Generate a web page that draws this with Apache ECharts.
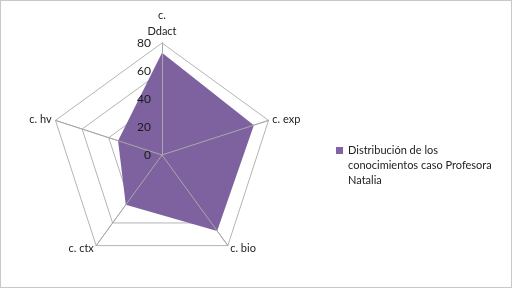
<!DOCTYPE html>
<html lang="es">
<head>
<meta charset="UTF-8">
<title>Distribución de los conocimientos</title>
<style>
  html, body { margin: 0; padding: 0; background: #fff; }
  #main { width: 510px; height: 286px; border: 1px solid #c8c8c8; }
</style>
</head>
<body>
<div id="main"></div>
<script src="https://cdn.jsdelivr.net/npm/echarts@6/dist/echarts.min.js"></script>
<script>
// ejes del radar y valores (sentido horario desde arriba)
var categorias = ['c.\nDdact', 'c. exp', 'c. bio', 'c. ctx', 'c. hv'];
var valores = [73, 69, 67, 44, 33];
var maximo = 80;
var serieNombre = 'Distribución de los conocimientos caso Profesora Natalia';

var chart = echarts.init(document.getElementById('main'));

// el radar de echarts gira en sentido antihorario: se invierte el orden
var orden = [0, 4, 3, 2, 1];
var fuente = 'Lato';

chart.setOption({
  animation: false,
  textStyle: { fontFamily: fuente },
  legend: {
    data: [serieNombre],
    left: 330,
    top: 137,
    orient: 'vertical',
    itemWidth: 7,
    itemHeight: 37,
    icon: 'path://M0,0L7,0L7,7L0,7Z M0,37L0.01,37',
    formatter: function () {
      return 'Distribución de los\nconocimientos caso Profesora\nNatalia';
    },
    textStyle: { fontSize: 11, color: '#222', lineHeight: 15, fontFamily: fuente }
  },
  radar: [{
    center: [161, 154],
    radius: 112,
    shape: 'polygon',
    splitNumber: 4,
    startAngle: 90,
    indicator: orden.map(function (i) {
      return { name: categorias[i], max: maximo, min: 0 };
    }),
    axisName: { color: '#222', fontSize: 11, fontFamily: fuente, lineHeight: 16 },
    nameGap: 4,
    splitArea: { show: false },
    splitLine: { lineStyle: { color: '#b4b4b4', width: 1 } },
    axisLine: { lineStyle: { color: '#b4b4b4' } },
    axisTick: { show: false },
    axisLabel: { show: false }
  }, {
    center: [161, 154],
    radius: 112,
    shape: 'polygon',
    splitNumber: 4,
    startAngle: 90,
    z: 5,
    indicator: orden.map(function (i, k) {
      return { name: '', max: maximo, min: 0, axisLabel: { show: k === 0 } };
    }),
    axisName: { show: false },
    splitArea: { show: false },
    splitLine: { show: false },
    axisLine: { lineStyle: { color: '#a8a8a8' } },
    axisTick: { show: false },
    axisLabel: { show: true, color: '#1a1a1a', fontSize: 12, margin: 11, fontFamily: fuente }
  }],
  series: [{
    type: 'radar',
    radarIndex: 0,
    symbol: 'none',
    data: [{
      name: serieNombre,
      value: orden.map(function (i) { return valores[i]; }),
      itemStyle: { color: '#8064a2' },
      lineStyle: { width: 0, color: '#8064a2' },
      areaStyle: { color: '#7e62a0', opacity: 1 }
    }]
  }]
});
</script>
</body>
</html>
